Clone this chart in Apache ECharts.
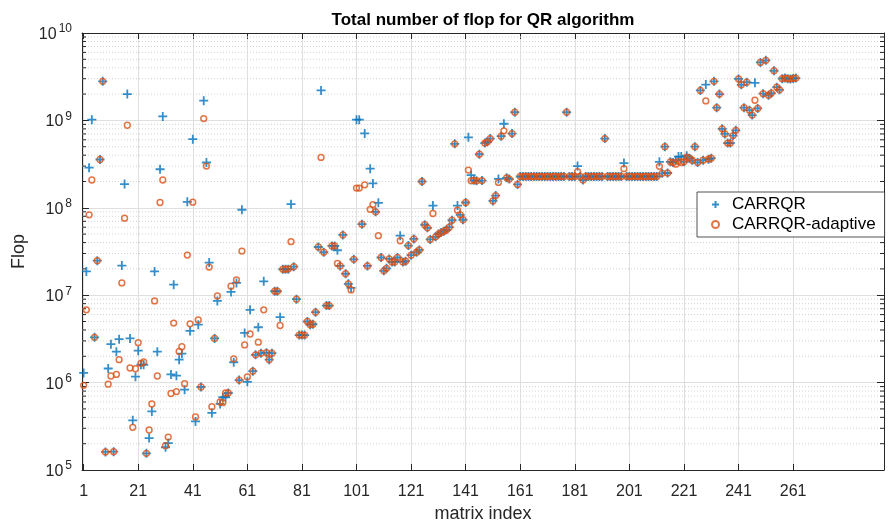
<!DOCTYPE html>
<html>
<head>
<meta charset="utf-8">
<script src="https://cdn.jsdelivr.net/npm/echarts@6/dist/echarts.min.js"></script>
<style>
  html, body { margin: 0; padding: 0; background: #fff; }
  #chart { width: 889px; height: 528px; }
</style>
</head>
<body>
<div id="chart"></div>
<script>
// Flop counts per test matrix (index 1..262)
const carrqr = [
  1.29e6, 1.87e7, 2.88e8, 1.02e9, 3.3e6, 2.48e7, 3.57e8, 2.8e9, 1.61e5, 1.45e6,
  2.75e6, 1.62e5, 2.26e6, 3.14e6, 2.18e7, 1.87e8, 2.0e9, 3.2e6, 3.7e5, 1.17e6,
  2.32e6, 1.6e6, 1.6e6, 1.55e5, 2.32e5, 4.68e5, 1.87e7, 2.26e6, 2.76e8, 1.11e9,
  1.82e5, 2.03e5, 1.24e6, 1.32e7, 1.2e6, 1.83e6, 2.14e6, 8.3e5, 1.17e8, 3.9e6,
  6.1e8, 3.6e5, 4.6e6, 8.9e5, 1.68e9, 3.3e8, 2.36e7, 4.5e5, 3.2e6, 8.6e6,
  5.7e5, 6.8e5, 6.8e5, 7.6e5, 1.09e7, 1.71e6, 1.38e7, 1.07e6, 9.5e7, 3.7e6,
  1.02e6, 6.8e6, 1.35e6, 2.08e6, 4.3e6, 2.17e6, 1.44e7, 2.2e6, 1.83e6, 2.17e6,
  1.11e7, 1.11e7, 5.6e6, 1.98e7, 1.98e7, 1.98e7, 1.1e8, 2.12e7, 9e6, 3.5e6,
  3.5e6, 3.5e6, 5e6, 4.6e6, 4.65e6, 6.4e6, 3.56e7, 2.2e9, 3.1e7, 7.6e6,
  7.6e6, 3.66e7, 3.66e7, 3.27e7, 2.16e7, 4.9e7, 1.76e7, 1.35e7, 1.21e7, 2.57e7,
  1.02e9, 1.02e9, 6.5e7, 7.1e8, 2.16e7, 2.8e8, 1.9e8, 9e7, 1.14e8, 2.7e7,
  1.9e7, 2.03e7, 2.6e7, 2.4e7, 2.4e7, 2.7e7, 4.8e7, 2.4e7, 2.45e7, 3.7e7,
  2.87e7, 4.4e7, 3.1e7, 3.3e7, 2.0e8, 6.4e7, 5.9e7, 4.35e7, 1.06e8, 4.65e7,
  5.0e7, 5.2e7, 5.4e7, 5.6e7, 6.0e7, 7.2e7, 5.4e8, 1.06e8, 8.3e7, 7.3e7,
  1.15e8, 6.4e8, 2.37e8, 2.06e8, 2.04e8, 4.1e8, 2.05e8, 5.5e8, 5.7e8, 6.2e8,
  1.2e8, 1.38e8, 2.14e8, 6.6e8, 9.15e8, 2.2e8, 2.13e8, 7.06e8, 1.24e9, 1.85e8,
  2.28e8, 2.28e8, 2.28e8, 2.28e8, 2.28e8, 2.28e8, 2.28e8, 2.28e8, 2.28e8, 2.28e8,
  2.28e8, 2.28e8, 2.28e8, 2.28e8, 2.28e8, 2.28e8, 2.28e8, 1.24e9, 2.28e8, 2.28e8,
  2.28e8, 3.0e8, 2.28e8, 2.08e8, 2.28e8, 2.28e8, 2.28e8, 2.28e8, 2.28e8, 2.28e8,
  2.28e8, 6.2e8, 2.28e8, 2.28e8, 2.28e8, 2.28e8, 2.28e8, 2.28e8, 3.25e8, 2.28e8,
  2.28e8, 2.28e8, 2.28e8, 2.28e8, 2.28e8, 2.28e8, 2.28e8, 2.28e8, 2.28e8, 2.28e8,
  2.28e8, 3.36e8, 2.48e8, 5.0e8, 2.5e8, 3.36e8, 3.3e8, 3.5e8, 3.86e8, 3.86e8,
  3.36e8, 3.94e8, 3.7e8, 3.5e8, 5.0e8, 3.3e8, 2.2e9, 3.5e8, 2.57e9, 3.6e8,
  3.7e8, 2.8e9, 1.4e9, 2.0e9, 8.0e8, 7.0e8, 5.5e8, 5.5e8, 6.7e8, 7.7e8,
  2.98e9, 2.55e9, 1.4e9, 2.74e9, 1.31e9, 1.15e9, 2.69e9, 1.37e9, 4.6e9, 2.02e9,
  4.87e9, 1.94e9, 2.05e9, 3.7e9, 2.4e9, 2.24e9, 3.0e9, 3.05e9, 3.0e9, 2.98e9,
  3.02e9, 3.05e9
];

const carrqrAdaptive = [
  9.3e5, 6.8e6, 8.3e7, 2.08e8, 3.3e6, 2.48e7, 3.57e8, 2.8e9, 1.61e5, 9.6e5,
  1.19e6, 1.62e5, 1.24e6, 1.83e6, 1.38e7, 7.6e7, 8.8e8, 1.47e6, 3.08e5, 1.44e6,
  2.86e6, 1.66e6, 1.72e6, 1.55e5, 2.87e5, 5.7e5, 8.6e6, 1.19e6, 1.15e8, 2.08e8,
  1.9e5, 2.38e5, 7.5e5, 4.8e6, 7.9e5, 2.27e6, 2.57e6, 9.7e5, 2.88e7, 4.7e6,
  1.16e8, 4.05e5, 5.2e6, 8.9e5, 1.05e9, 3.0e8, 2.1e7, 5.3e5, 3.2e6, 9.8e6,
  6.0e5, 5.9e5, 7.6e5, 7.6e5, 1.27e7, 1.87e6, 1.5e7, 1.07e6, 3.2e7, 2.7e6,
  1.16e6, 3.6e6, 1.35e6, 2.08e6, 2.9e6, 2.17e6, 6.8e6, 2.2e6, 1.83e6, 2.17e6,
  1.11e7, 1.11e7, 4.5e6, 1.98e7, 1.98e7, 2.0e7, 4.1e7, 2.12e7, 9e6, 3.5e6,
  3.5e6, 3.5e6, 5e6, 4.6e6, 4.65e6, 6.4e6, 3.56e7, 3.77e8, 3.1e7, 7.6e6,
  7.6e6, 3.66e7, 3.66e7, 2.31e7, 2.16e7, 4.9e7, 1.76e7, 1.35e7, 1.15e7, 2.57e7,
  1.68e8, 1.68e8, 6.5e7, 1.83e8, 2.16e7, 9.6e7, 1.09e8, 9e7, 4.8e7, 2.7e7,
  1.9e7, 2.03e7, 2.6e7, 2.4e7, 2.4e7, 2.7e7, 4.2e7, 2.4e7, 2.45e7, 3.7e7,
  2.87e7, 4.4e7, 3.1e7, 3.3e7, 2.0e8, 6.4e7, 5.9e7, 4.35e7, 8.6e7, 4.65e7,
  5.0e7, 5.2e7, 5.4e7, 5.6e7, 6.0e7, 7.2e7, 5.4e8, 9.4e7, 8.3e7, 7.3e7,
  1.15e8, 2.7e8, 2.04e8, 2.06e8, 2.04e8, 4.1e8, 2.05e8, 5.5e8, 5.7e8, 6.2e8,
  1.2e8, 1.38e8, 1.95e8, 6.6e8, 7.6e8, 2.2e8, 2.13e8, 7.06e8, 1.24e9, 1.85e8,
  2.28e8, 2.28e8, 2.28e8, 2.28e8, 2.28e8, 2.28e8, 2.28e8, 2.28e8, 2.28e8, 2.28e8,
  2.28e8, 2.28e8, 2.28e8, 2.28e8, 2.28e8, 2.28e8, 2.28e8, 1.24e9, 2.28e8, 2.28e8,
  2.28e8, 2.6e8, 2.28e8, 2.08e8, 2.28e8, 2.28e8, 2.28e8, 2.28e8, 2.28e8, 2.28e8,
  2.28e8, 6.2e8, 2.28e8, 2.28e8, 2.28e8, 2.28e8, 2.28e8, 2.28e8, 2.8e8, 2.28e8,
  2.28e8, 2.28e8, 2.28e8, 2.28e8, 2.28e8, 2.28e8, 2.28e8, 2.28e8, 2.28e8, 2.28e8,
  2.28e8, 2.98e8, 2.48e8, 5.0e8, 2.5e8, 3.36e8, 3.3e8, 3.16e8, 3.4e8, 3.3e8,
  3.36e8, 3.8e8, 3.7e8, 3.5e8, 5.0e8, 3.3e8, 2.2e9, 3.5e8, 1.67e9, 3.6e8,
  3.7e8, 2.8e9, 1.4e9, 2.0e9, 8.0e8, 7.0e8, 5.5e8, 5.5e8, 6.7e8, 7.7e8,
  2.98e9, 2.55e9, 1.4e9, 2.74e9, 1.31e9, 1.15e9, 1.7e9, 1.37e9, 4.6e9, 2.02e9,
  4.87e9, 1.94e9, 2.05e9, 3.7e9, 2.4e9, 2.24e9, 3.0e9, 3.05e9, 3.0e9, 2.98e9,
  3.02e9, 3.05e9
];

// x ticks shown on the matrix-index axis
const xTicks = [1, 21, 41, 61, 81, 101, 121, 141, 161, 181, 201, 221, 241, 261];
// decades of the log axis and the in-between multiples used for dotted grid lines
const decades = [1e5, 1e6, 1e7, 1e8, 1e9];
const minorMultiples = [2, 3, 4, 5, 6, 7, 8, 9];

const X_MIN = 0.4, X_MAX = 294.3;
const Y_MIN = 1e5, Y_MAX = 1e10;

const minorValues = [];
decades.forEach(d => minorMultiples.forEach(m => minorValues.push(d * m)));

const toPoints = arr => arr.map((v, i) => [i + 1, v]);

const axisColor = '#262626';
const fontFamily = 'Liberation Sans, Arial, Helvetica, sans-serif';

const chart = echarts.init(document.getElementById('chart'), null, { renderer: 'canvas' });

const option = {
  backgroundColor: '#fff',
  animation: false,
  title: {
    text: 'Total number of flop for QR algorithm',
    left: 478,
    top: 7,
    textAlign: 'center',
    textStyle: { fontFamily, fontSize: 17, fontWeight: 'bold', color: '#000' }
  },
  grid: { left: 82, right: 5, top: 33, bottom: 50, containLabel: false },
  legend: {
    data: ['CARRQR', 'CARRQR-adaptive'],
    orient: 'vertical',
    left: 697,
    top: 192,
    padding: [4, 9, 4, 14],
    itemGap: 3,
    itemWidth: 7,
    itemHeight: 7,
    backgroundColor: '#fff',
    borderColor: axisColor,
    borderWidth: 0.8,
    borderRadius: 0,
    textStyle: { fontFamily, fontSize: 17, color: '#000', padding: [0, 0, 0, 8] }
  },
  xAxis: [
    {
      type: 'value',
      min: X_MIN,
      max: X_MAX,
      position: 'bottom',
      name: 'matrix index',
      nameLocation: 'middle',
      nameGap: 35,
      nameTextStyle: { fontFamily, fontSize: 18, color: axisColor },
      axisLine: { show: true, onZero: false, lineStyle: { color: axisColor, width: 1 } },
      axisTick: { show: true, inside: true, length: 6, customValues: xTicks, lineStyle: { color: axisColor } },
      axisLabel: { show: true, customValues: xTicks, margin: 14, fontFamily, fontSize: 16, color: axisColor },
      splitLine: { show: true, lineStyle: { color: '#dfdfdf', width: 1 } }
    },
    {
      type: 'value',
      min: X_MIN,
      max: X_MAX,
      position: 'top',
      axisLine: { show: true, onZero: false, lineStyle: { color: axisColor, width: 1 } },
      axisTick: { show: true, inside: true, length: 6, customValues: xTicks, lineStyle: { color: axisColor } },
      axisLabel: { show: false },
      splitLine: { show: false }
    }
  ],
  yAxis: [
    {
      type: 'log',
      logBase: 10,
      min: Y_MIN,
      max: Y_MAX,
      position: 'left',
      name: 'Flop',
      nameLocation: 'middle',
      nameGap: 49,
      nameTextStyle: { fontFamily, fontSize: 18, color: axisColor },
      axisLine: { show: true, onZero: false, lineStyle: { color: axisColor, width: 1 } },
      axisTick: { show: true, inside: true, length: 7, lineStyle: { color: axisColor } },
      axisLabel: {
        margin: 10,
        formatter: v => '{b|10}{s|' + Math.round(Math.log10(v)) + '}',
        rich: {
          b: { fontFamily, fontSize: 16, color: axisColor, lineHeight: 20, padding: [3, 0, 0, 0] },
          s: { fontFamily, fontSize: 12, color: axisColor, verticalAlign: 'top', padding: [0, 0, 6, 2] }
        }
      },
      splitLine: { show: true, lineStyle: { color: '#dfdfdf', width: 1 } }
    },
    {
      type: 'log',
      logBase: 10,
      min: Y_MIN,
      max: Y_MAX,
      position: 'right',
      axisLine: { show: true, onZero: false, lineStyle: { color: axisColor, width: 1 } },
      axisTick: { show: true, inside: true, length: 7, lineStyle: { color: axisColor } },
      axisLabel: { show: false },
      splitLine: { show: false }
    }
  ],
  series: [
    {
      // dotted minor grid lines and minor ticks of the log axis
      name: 'minor',
      type: 'custom',
      silent: true,
      z: 1,
      xAxisIndex: 0,
      yAxisIndex: 0,
      data: minorValues.map(v => [X_MIN, v]),
      renderItem: (params, api) => {
        const cs = params.coordSys;
        const y = api.coord([X_MIN, api.value(1)])[1];
        return {
          type: 'group',
          children: [
            {
              type: 'line',
              shape: { x1: cs.x, y1: y, x2: cs.x + cs.width, y2: y },
              style: { stroke: '#d2d2d2', lineWidth: 1, lineDash: [1, 2] }
            },
            {
              type: 'line',
              shape: { x1: cs.x, y1: y, x2: cs.x + 4, y2: y },
              style: { stroke: axisColor, lineWidth: 1 }
            },
            {
              type: 'line',
              shape: { x1: cs.x + cs.width - 4, y1: y, x2: cs.x + cs.width, y2: y },
              style: { stroke: axisColor, lineWidth: 1 }
            }
          ]
        };
      }
    },
    {
      name: 'CARRQR',
      type: 'scatter',
      z: 3,
      xAxisIndex: 0,
      yAxisIndex: 0,
      symbol: 'path://M-5,0L5,0M0,-5L0,5',
      symbolSize: 9,
      itemStyle: { color: 'rgba(0,0,0,0)', borderColor: '#0072BD', borderWidth: 1.8 },
      emphasis: { disabled: true },
      data: toPoints(carrqr)
    },
    {
      name: 'CARRQR-adaptive',
      type: 'scatter',
      z: 4,
      xAxisIndex: 0,
      yAxisIndex: 0,
      symbol: 'circle',
      symbolSize: 5.8,
      itemStyle: { color: 'rgba(0,0,0,0)', borderColor: '#D95319', borderWidth: 1.5 },
      emphasis: { disabled: true },
      data: toPoints(carrqrAdaptive)
    }
  ]
};

chart.setOption(option);
</script>
</body>
</html>
